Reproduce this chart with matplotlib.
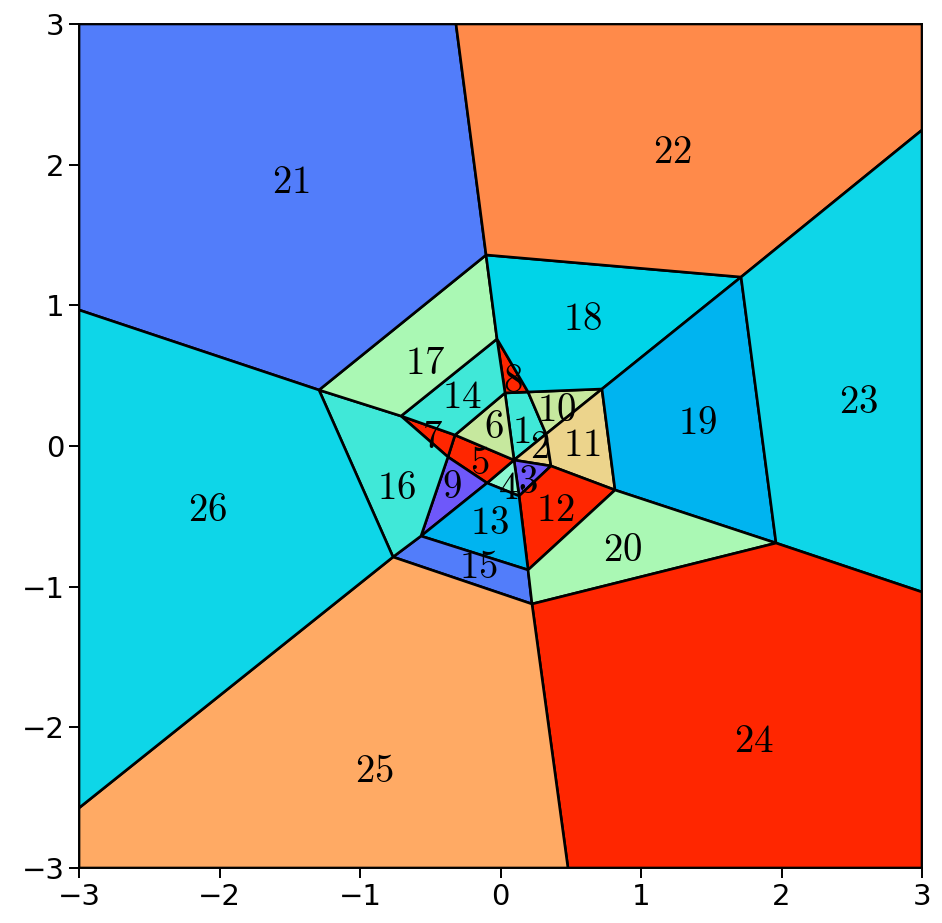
import matplotlib
matplotlib.use("Agg")
import matplotlib.pyplot as plt
from matplotlib.patches import Polygon

plt.rcParams['mathtext.fontset'] = 'cm'

# Voronoi vertices (data coordinates)
vx = {
    'A': (-0.317, 3.0), 'B': (-0.103, 1.358), 'C': (1.712, 1.201), 'D': (3.0, 2.246),
    'E': (1.961, -0.690), 'F': (3.0, -1.038), 'G': (0.224, -1.123), 'H': (0.480, -3.0),
    'I': (-0.765, -0.789), 'J': (-3.0, -2.573), 'K': (-1.292, 0.398), 'L': (-3.0, 0.967),
    'M': (-0.708, 0.213), 'N': (-0.025, 0.761), 'O': (0.722, 0.405), 'P': (0.815, -0.313),
    'Q': (0.196, -0.881), 'R': (-0.566, -0.640), 'S': (0.032, 0.377), 'T8': (0.196, 0.384),
    'W': (0.324, 0.085), 'V': (0.096, -0.100), 'T': (0.359, -0.142), 'U': (0.132, -0.355),
    'Y': (-0.096, -0.263), 'Z': (-0.374, -0.078), 'X': (-0.324, 0.078),
    'TL': (-3.0, 3.0), 'TR': (3.0, 3.0), 'BR': (3.0, -3.0), 'BL': (-3.0, -3.0),
}

regions = {
    1: ['S', 'T8', 'W', 'V'],
    2: ['W', 'T', 'V'],
    3: ['V', 'T', 'U'],
    4: ['V', 'U', 'Y'],
    5: ['X', 'V', 'Y', 'Z'],
    6: ['S', 'V', 'X'],
    7: ['M', 'X', 'Z'],
    8: ['N', 'S', 'T8'],
    9: ['Z', 'Y', 'R'],
    10: ['T8', 'O', 'W'],
    11: ['W', 'O', 'P', 'T'],
    12: ['T', 'P', 'Q', 'U'],
    13: ['Y', 'U', 'Q', 'R'],
    14: ['M', 'N', 'S', 'X'],
    15: ['R', 'Q', 'G', 'I'],
    16: ['K', 'M', 'Z', 'R', 'I'],
    17: ['K', 'B', 'N', 'M'],
    18: ['B', 'C', 'O', 'T8', 'N'],
    19: ['O', 'C', 'E', 'P'],
    20: ['P', 'E', 'G', 'Q'],
    21: ['TL', 'A', 'B', 'K', 'L'],
    22: ['A', 'TR', 'D', 'C', 'B'],
    23: ['D', 'F', 'E', 'C'],
    24: ['E', 'F', 'BR', 'H', 'G'],
    25: ['G', 'H', 'BL', 'J', 'I'],
    26: ['L', 'K', 'I', 'J'],
}

colors = {
    1: '#40e8d8', 2: '#ecd48c', 3: '#6e58fa', 4: '#8cfad2', 5: '#ff2600',
    6: '#c6e89e', 7: '#ff2600', 8: '#ff2600', 9: '#6e58fa', 10: '#c6e89e',
    11: '#ecd48c', 12: '#ff2600', 13: '#00b4f0', 14: '#40e8d8', 15: '#527dfa',
    16: '#40e8d8', 17: '#aaf8b4', 18: '#00d4e8', 19: '#00b4f0', 20: '#aaf8b4',
    21: '#527dfa', 22: '#ff8a4a', 23: '#0ed6e8', 24: '#ff2600', 25: '#ffaa64',
    26: '#0ed6e8',
}

label_pos = {
    1: (0.146, 0.100), 2: (0.281, -0.007), 3: (0.196, -0.256), 4: (0.053, -0.299),
    5: (-0.146, -0.121), 6: (-0.046, 0.135), 7: (-0.488, 0.064), 8: (0.089, 0.462),
    9: (-0.345, -0.291), 10: (0.402, 0.256), 11: (0.580, 0.007), 12: (0.388, -0.455),
    13: (-0.075, -0.547), 14: (-0.274, 0.348), 15: (-0.160, -0.860), 16: (-0.737, -0.299),
    17: (-0.537, 0.590), 18: (0.587, 0.903), 19: (1.406, 0.164), 20: (0.872, -0.739),
    21: (-1.491, 1.877), 22: (1.221, 2.090), 23: (2.552, 0.313), 24: (1.804, -2.097),
    25: (-0.900, -2.310), 26: (-2.082, -0.455),
}

ticks = [-3, -2, -1, 0, 1, 2, 3]

fig = plt.figure(figsize=(9.42, 9.23), dpi=100)
ax = fig.add_axes([0.0839, 0.0596, 0.8949, 0.9144])

for k, names in regions.items():
    pts = [vx[n] for n in names]
    ax.add_patch(Polygon(pts, closed=True, facecolor=colors[k],
                         edgecolor='black', linewidth=1.9, joinstyle='miter'))

for k, (x, y) in label_pos.items():
    ax.text(x, y, r'$%d$' % k, fontsize=28, ha='center', va='center', color='black')

ax.set_xlim(-3, 3)
ax.set_ylim(-3, 3)
ax.set_xticks(ticks)
ax.set_yticks(ticks)
ax.tick_params(labelsize=21, width=1.4, length=7)
for s in ax.spines.values():
    s.set_linewidth(1.4)

fig.savefig('out.png', dpi=100)
